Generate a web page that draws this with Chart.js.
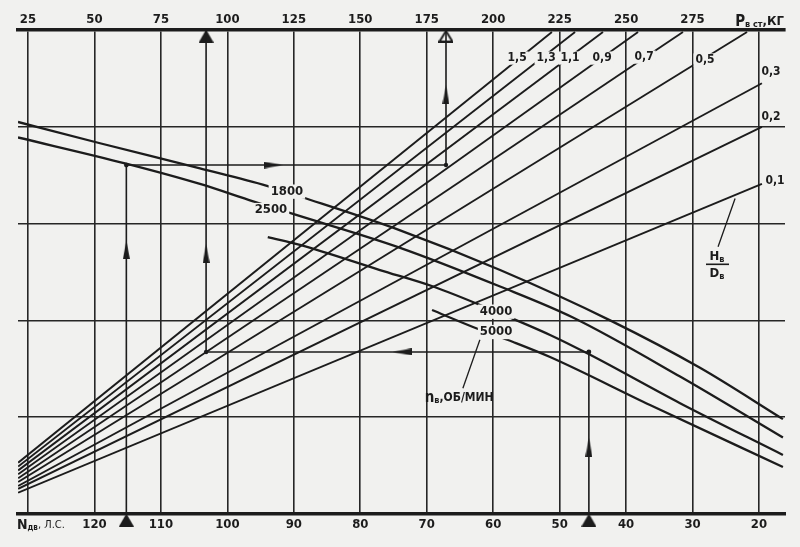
<!DOCTYPE html>
<html><head><meta charset="utf-8">
<script src="https://cdn.jsdelivr.net/npm/chart.js@4"></script>
<style>html,body{margin:0;padding:0;background:#f1f1ef;}</style>
</head><body>
<canvas id="c" width="800" height="547"></canvas>
<script>
// ---- axes ----
const pTopTicks = [25,50,75,100,125,150,175,200,225,250,275,300];   // P в ст, кг
const nBottomTicks = [130,120,110,100,90,80,70,60,50,40,30,20];     // N дв, л.с.
const pMin = 21.24, pMax = 309.78;
const yMin = 0, yMax = 5;

// ---- H/D lines ----
const hdRatio   = ['1,5','1,3','1,1','0,9','0,7','0,5','0,3','0,2','0,1'];
const hdStartP  = [21.3,21.3,21.3,21.3,21.3,21.3,21.3,21.3,21.3];
const hdStartY  = [0.53,0.49,0.45,0.41,0.37,0.33,0.29,0.26,0.22];
const hdEndP    = [222.1,230.8,241.3,254.5,271.4,295.5,301.1,301.1,301.1];
const hdEndY    = [4.98,4.98,4.98,4.98,4.98,4.98,4.45,4.00,3.41];
const hdLabelP  = [209.0,219.9,228.9,241.0,256.8,279.7,304.5,304.5,306.0];
const hdLabelY  = [4.71,4.71,4.71,4.71,4.72,4.69,4.57,4.10,3.44];

// ---- n_в curves (об/мин) ----
const nSpeeds = ['1800','2500','4000','5000'];
const n1800P = [21.24,52.1,89.7,114.9,127.3,165.0,202.6,244.0,277.8,309.0];
const n1800Y = [4.05,3.83,3.57,3.39,3.28,2.93,2.52,2.00,1.51,0.98];
const n2500P = [21.24,61.9,89.7,109.7,124.7,165.0,202.6,230.0,270.3,309.0];
const n2500Y = [3.89,3.62,3.41,3.23,3.10,2.75,2.35,2.03,1.42,0.79];
const n4000P = [115.2,127.3,157.4,177.4,201.1,221.4,236.1,270.3,309.0];
const n4000Y = [2.86,2.78,2.52,2.35,2.09,1.85,1.65,1.145,0.61];
const n5000P = [177.0,192.4,207.5,221.4,259.0,309.0];
const n5000Y = [2.107,1.932,1.777,1.622,1.126,0.486];
const nLabelP = [122.4,116.4,201.1,201.1];
const nLabelY = [3.33,3.14,2.09,1.88];

// ---- example key paths ----
const exampleN = [115.2, 45.6];     // start on N axis
const exampleY = [3.605, 1.674];    // level of horizontal run
const exampleP = [182.25, 92.0];    // result on P axis
const arrowUpY = [[2.73, 4.33],[0.69, 2.69]];
const arrowRunP = [117.2, 165.7];

// ---- leaders & captions ----
const hdLeaderP = [291.0, 284.6], hdLeaderY = [3.26, 2.76];
const hdCaptionP = 284.2, hdCaptionY = 2.58;
const nLeaderP = [195.0, 188.6], nLeaderY = [1.80, 1.30];
const nCaptionP = 187.2, nCaptionY = 1.198;

const INK = '#1c1c1c', PAPER = '#f1f1ef';
const FONT = '"DejaVu Sans Condensed","Liberation Sans Narrow","DejaVu Sans",sans-serif';
const nToP = n => 25 + (130 - n) * 2.5;

function pts(xs, ys){ return xs.map((x,i)=>({x, y: ys[i]})); }

function mk(w,h,draw){ const c=document.createElement('canvas'); c.width=w; c.height=h; draw(c.getContext('2d')); return c; }
const arrowImg = mk(7,19,g=>{g.fillStyle=INK;g.beginPath();g.moveTo(3.5,0);g.lineTo(7,19);g.lineTo(0,19);g.closePath();g.fill();});
const triFill = mk(15,13,g=>{g.fillStyle=INK;g.beginPath();g.moveTo(7.5,0);g.lineTo(15,13);g.lineTo(0,13);g.closePath();g.fill();});
const triHollow = mk(15,13,g=>{g.fillStyle=PAPER;g.strokeStyle=INK;g.lineWidth=2;g.beginPath();g.moveTo(7.5,1.5);g.lineTo(14,12);g.lineTo(1,12);g.closePath();g.fill();g.stroke();});

const datasets = [];
hdRatio.forEach((r,i)=>datasets.push({label:'H/D '+r, data:[{x:hdStartP[i],y:hdStartY[i]},{x:hdEndP[i],y:hdEndY[i]}], borderColor:INK, borderWidth:1.9, pointRadius:0, showLine:true}));
[[n1800P,n1800Y],[n2500P,n2500Y],[n4000P,n4000Y],[n5000P,n5000Y]].forEach((a,i)=>datasets.push({label:'n '+nSpeeds[i], data:pts(a[0],a[1]), borderColor:INK, borderWidth:2.3, pointRadius:0, showLine:true, cubicInterpolationMode:'monotone'}));
exampleN.forEach((n,i)=>{
  const px = nToP(n);
  datasets.push({label:'path'+i, data:[{x:px,y:0},{x:px,y:exampleY[i]},{x:exampleP[i],y:exampleY[i]},{x:exampleP[i],y:5}], borderColor:INK, borderWidth:1.6, pointRadius:[0,2.4,2.2,0], pointBackgroundColor:INK, pointBorderWidth:0, showLine:true, clip:false});
  datasets.push({label:'arrows'+i, data:[{x:px,y:arrowUpY[i][0]},{x:arrowRunP[i],y:exampleY[i]},{x:exampleP[i],y:arrowUpY[i][1]}], showLine:false, pointStyle:arrowImg, pointRotation:[0, i===0?90:-90, 0], pointRadius:6});
  datasets.push({label:'tri'+i, data:[{x:px,y:-0.062},{x:exampleP[i],y:4.938}], showLine:false, pointStyle:[triFill, i===0?triHollow:triFill], pointRadius:7, clip:false});
});
datasets.push({label:'hdLeader', data:pts(hdLeaderP,hdLeaderY), borderColor:INK, borderWidth:1.3, pointRadius:0, showLine:true});
datasets.push({label:'nLeader', data:pts(nLeaderP,nLeaderY), borderColor:INK, borderWidth:1.3, pointRadius:0, showLine:true});

function drawParts(ctx, parts, x, y, align){
  let w=0; parts.forEach(p=>{ctx.font=(p.b===false?'':'bold ')+p.s+'px '+FONT; p.w=ctx.measureText(p.t).width; w+=p.w;});
  let cx = align==='left'?x:(align==='right'?x-w:x-w/2);
  parts.forEach(p=>{ctx.font=(p.b===false?'':'bold ')+p.s+'px '+FONT; ctx.textBaseline='middle'; ctx.textAlign='left'; ctx.fillText(p.t,cx,y+(p.dy||0)); cx+=p.w;});
  return w;
}
function label(ctx, t, x, y, size, back){
  ctx.font='bold '+size+'px '+FONT; const w=ctx.measureText(t).width;
  if(back){ctx.fillStyle=PAPER; ctx.fillRect(x-w/2-2,y-size*0.55,w+4,size*1.1);}
  ctx.fillStyle=INK; ctx.textAlign='center'; ctx.textBaseline='middle'; ctx.fillText(t,x,y);
}

const textPlugin = {
  id:'texts',
  beforeDraw(chart){ const c=chart.ctx; c.save(); c.fillStyle=PAPER; c.fillRect(0,0,chart.width,chart.height); c.restore(); },
  afterDatasetsDraw(chart){
    const c=chart.ctx, X=v=>chart.scales.x.getPixelForValue(v), Y=v=>chart.scales.y.getPixelForValue(v);
    c.save();
    hdRatio.forEach((r,i)=>label(c, r, X(hdLabelP[i]), Y(hdLabelY[i]), 12, i<6));
    nSpeeds.forEach((s,i)=>label(c, s, X(nLabelP[i]), Y(nLabelY[i]), 13, true));
    c.fillStyle=INK;
    const hx=X(hdCaptionP), hy=Y(hdCaptionY);
    drawParts(c,[{t:'H',s:13},{t:'в',s:9,dy:3}],hx,hy-8,'center');
    c.fillRect(hx-11,hy-0.75,23,1.6);
    drawParts(c,[{t:'D',s:13},{t:'в',s:9,dy:3}],hx,hy+9,'center');
    drawParts(c,[{t:'n',s:15},{t:'в',s:9,dy:3},{t:',ОБ/МИН',s:12}],X(nCaptionP),Y(nCaptionY),'center');
    drawParts(c,[{t:'P',s:15},{t:'в ст',s:9,dy:3},{t:',КГ',s:13}],784,22,'right');
    drawParts(c,[{t:'N',s:14},{t:'дв',s:8,dy:3},{t:', Л.С.',s:11,b:false}],17,525,'left');
    c.restore();
  }
};

new Chart(document.getElementById('c'), {
  type:'scatter',
  data:{datasets},
  plugins:[textPlugin],
  options:{
    responsive:false, animation:false, devicePixelRatio:1,
    layout:{autoPadding:false, padding:{left:18,right:15,top:0,bottom:0}},
    plugins:{legend:{display:false}, tooltip:{enabled:false}},
    elements:{line:{tension:0}},
    scales:{
      x:{type:'linear', position:'top', min:pMin, max:pMax,
         afterFit(s){s.height=30;},
         afterBuildTicks(s){s.ticks = pTopTicks.map(v=>({value:v}));},
         ticks:{padding:3, color:INK, font:{size:13, weight:'bold', family:FONT}, autoSkip:false, maxRotation:0, callback:v=>v===300?'':v},
         grid:{color:'#262626', lineWidth:1.6, drawTicks:false},
         border:{display:true, color:INK, width:3.5}},
      x2:{type:'linear', position:'bottom', reverse:true, min:130-(pMax-25)/2.5, max:130+(25-pMin)/2.5,
         afterFit(s){s.height=33;},
         afterBuildTicks(s){s.ticks = nBottomTicks.map(v=>({value:v}));},
         ticks:{padding:3, color:INK, font:{size:13, weight:'bold', family:FONT}, autoSkip:false, maxRotation:0, callback:v=>v===130?'':v},
         grid:{display:false, drawTicks:false},
         border:{display:true, color:INK, width:3.5}},
      y:{type:'linear', min:yMin, max:yMax, afterFit(s){s.width=0;},
         ticks:{display:false, stepSize:1},
         grid:{color:'#262626', lineWidth:1.6, drawTicks:false},
         border:{display:false}}
    }
  }
});
</script>
</body></html>
